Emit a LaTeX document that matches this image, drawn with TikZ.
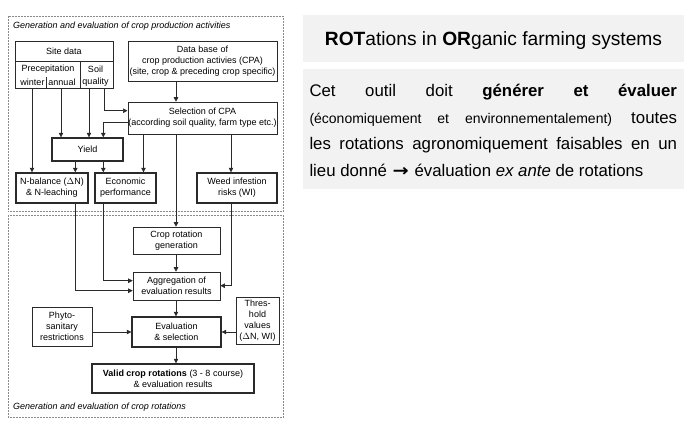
\documentclass[tikz,border=0pt]{standalone}
\usepackage{fontspec}
\setmainfont{Liberation Sans}
\newfontfamily\dejavu{DejaVu Sans}
\usetikzlibrary{arrows.meta,calc}
\definecolor{panel}{HTML}{F2F2F2}
\definecolor{ln}{HTML}{2A2A2A}
\definecolor{dsh}{HTML}{8A8A8A}
\begin{document}
\begin{tikzpicture}[x=1pt,y=-1pt,
  box/.style={draw=ln, line width=0.6pt, inner sep=0.5pt, align=center,
    font=\fontsize{9}{10.8}\selectfont},
  tbox/.style={box, line width=1.4pt},
  txt/.style={inner sep=0pt, font=\fontsize{9}{10.8}\selectfont},
  lbl/.style={inner sep=0pt, anchor=base west, font=\fontsize{9}{10.8}\selectfont\itshape},
  arr/.style={draw=ln, line width=0.6pt, -{Triangle[length=4.5pt,width=4.5pt]}},
  ln/.style={draw=ln, line width=0.6pt},
  frame/.style={draw=dsh, line width=0.6pt, dash pattern=on 2pt off 1pt},
  panelbox/.style={fill=panel, inner sep=0pt}
]
\useasboundingbox (0,0) rectangle (690,423);

% ---------- dashed frames ----------
\draw[frame] (8,16) rectangle (283.5,211.7);
\draw[frame] (8,215) rectangle (283.5,417);
\node[lbl] (toplbl) at (13,28) {Generation and evaluation of crop production activities};
\node[lbl] (botlbl) at (13,409.5) {Generation and evaluation of crop rotations};

% ---------- site data ----------
\node[box, minimum width=98pt, minimum height=47pt] (site) at (64,64.5) {};
\draw[ln] (15,61) -- (113,61);
\draw[ln] (80,61) -- (80,88);
\draw[ln] (46.7,77) -- (46.7,88);
\node[txt] (sitet) at (64,51) {Site data};
\node[txt] (prec) at (48,69.5) {Precepitation};
\node[txt] (wint) at (32.5,82) {winter};
\node[txt] (ann) at (62,82) {annual};
\node[txt] (soil) at (95.5,69.5) {Soil};
\node[txt] (qual) at (95.5,82) {quality};
\coordinate (pw) at (32,88);
\coordinate (pa) at (61,88);
\coordinate (sq1) at (89,88);
\coordinate (sq2) at (104,88);

% ---------- upper boxes ----------
\node[box, minimum width=149pt, minimum height=40pt] (db) at (202.5,61)
  {Data base of\\crop production activies (CPA)\\(site, crop \& preceding crop specific)};
\node[box, minimum width=149pt, minimum height=32pt] (sel) at (202.5,118)
  {Selection of CPA\\(according soil quality, farm type etc.)};
\node[tbox, minimum width=71pt, minimum height=23pt] (yield) at (87.5,149.5) {Yield};
\node[tbox, minimum width=72pt, minimum height=30pt] (nbal) at (52,188)
  {N-balance ($\Delta$N)\\\& N-leaching};
\node[tbox, minimum width=61pt, minimum height=30pt] (econ) at (125.5,188)
  {Economic\\performance};
\node[tbox, minimum width=80pt, minimum height=30pt] (weed) at (237,188)
  {Weed infestion\\risks (WI)};

% ---------- lower boxes ----------
\node[box, minimum width=87pt, minimum height=27pt] (crg) at (176.5,240.5)
  {Crop rotation\\generation};
\node[box, minimum width=87pt, minimum height=28pt] (agg) at (176.5,286)
  {Aggregation of\\evaluation results};
\node[tbox, minimum width=89pt, minimum height=30pt] (evs) at (176.5,332)
  {Evaluation\\\& selection};
\node[box, minimum width=60pt, minimum height=39pt] (phy) at (62,326.5)
  {Phyto-\\sanitary\\restrictions};
\node[box, minimum width=43pt, minimum height=47pt] (thr) at (257.5,320.5)
  {Thres-\\hold\\values\\($\Delta$N, WI)};
\node[tbox, minimum width=162pt, minimum height=29pt] (valid) at (173,378.5)
  {\textbf{Valid crop rotations} (3 - 8 course)\\\& evaluation results};

% trunk x
\coordinate (tk) at (176,0);

% ---------- connectors ----------
\draw[arr] (pw) -- (pw |- nbal.north);
\draw[arr] (pa) -- (pa |- yield.north);
\draw[arr] (sq1) -- (sq1 |- yield.north);
\draw[arr] (sq2) |- ([yshift=-9pt]sel.north west);
\draw[arr] ([yshift=-21pt]sel.north west) -| ([xshift=52pt]yield.north west);
\draw[arr] (tk |- db.south) -- (tk |- sel.north);
\draw[arr] ([xshift=24pt]yield.south west) -- ([xshift=24pt]yield.south west |- nbal.north);
\draw[arr] ([xshift=52pt]yield.south west) -- ([xshift=52pt]yield.south west |- econ.north);
\draw[arr] ([xshift=16pt]sel.south west) -- ([xshift=16pt]sel.south west |- econ.north);
\draw[arr] ([xshift=103.5pt]sel.south west) -- ([xshift=103.5pt]sel.south west |- weed.north);
\draw[arr] (tk |- sel.south) -- (tk |- crg.north);
\draw[arr] (tk |- crg.south) -- (tk |- agg.north);
\draw[arr] (tk |- agg.south) -- (tk |- evs.north);
\draw[arr] (tk |- evs.south) -- (tk |- valid.north);
\draw[arr] ([xshift=60pt]nbal.south west) |- ([yshift=-19pt]agg.north west);
\draw[arr] ([xshift=8.5pt]econ.south west) |- ([yshift=-9pt]agg.north west);
\draw[arr] ([xshift=35pt]weed.south west) |- ([yshift=-14pt]agg.north east);
\draw[arr] (phy.east |- evs.west) -- (evs.west);
\draw[arr] (thr.west |- evs.east) -- (evs.east);

% ---------- right panel ----------
\node[panelbox, minimum width=381pt, minimum height=47pt] (title) at (493.5,38.5) {};
\node[inner sep=0pt, anchor=base, font=\fontsize{19.2}{22}\selectfont] (titlet) at (493.5,45.7)
  {\textbf{ROT}ations in \textbf{OR}ganic farming systems};
\node[panelbox, minimum width=381pt, minimum height=120pt] (body) at (493.5,129) {};
\node[inner sep=0pt, anchor=north west, align=left,
      font=\fontsize{16.8}{26.4}\selectfont] (bodyt) at (309.3,78.2)
  {\strut\makebox[367.5pt][s]{Cet outil doit \textbf{générer et évaluer}}\\
   \makebox[367.5pt][s]{{\fontsize{14}{26.4}\selectfont(économiquement et environnementalement)} toutes}\\
   \makebox[367.5pt][s]{les rotations agronomiquement faisables en un}\\
   lieu donné\hspace{1pt} {\dejavu\bfseries\scalebox{1.15}[1]{→}}\hspace{1pt} évaluation \textit{ex ante} de rotations};
\end{tikzpicture}
\end{document}
